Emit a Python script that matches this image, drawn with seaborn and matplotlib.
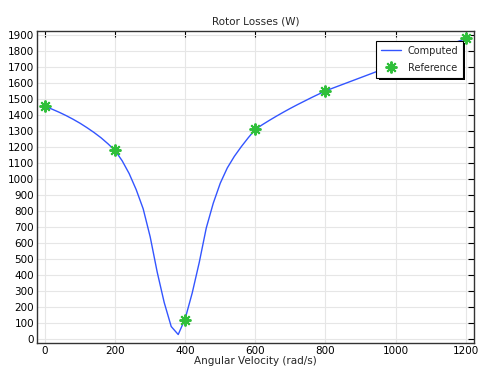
import matplotlib
matplotlib.use("Agg")
import matplotlib.pyplot as plt
import matplotlib.patheffects as pe
import seaborn as sns
import pandas as pd

# Computed curve
omega = [0, 20, 40, 60, 80, 100, 120, 140, 160, 180, 200, 220, 240, 260, 280, 300,
         320, 340, 360, 380, 400, 420, 440, 460, 480, 500, 520, 540, 560, 580, 600,
         620, 640, 660, 680, 700, 720, 740, 760, 780, 800, 840, 880, 920, 960, 1000,
         1040, 1080, 1120, 1160, 1200]
losses = [1455, 1437, 1418, 1397, 1374, 1349, 1321, 1291, 1258, 1220, 1178, 1115, 1035, 935, 815, 640,
          420, 230, 80, 30, 130, 290, 480, 695, 850, 975, 1070, 1142, 1203, 1259, 1311,
          1340, 1367, 1393, 1418, 1442, 1465, 1487, 1509, 1530, 1551, 1584, 1617, 1650, 1683, 1715,
          1747, 1780, 1812, 1845, 1877]

# Reference points
ref_omega = [0, 200, 400, 600, 800, 1000, 1200]
ref_losses = [1455, 1180, 120, 1315, 1548, 1715, 1880]

x_ticks = [0, 200, 400, 600, 800, 1000, 1200]
y_ticks = list(range(0, 2000, 100))

sns.set_style("white")
plt.rcParams['font.family'] = ['DejaVu Sans']

fig = plt.figure(figsize=(4.79, 3.66), dpi=100)
ax = fig.add_axes([0.0772, 0.0628, 0.9124, 0.8525])

df = pd.DataFrame({"omega": omega, "losses": losses})
dref = pd.DataFrame({"omega": ref_omega, "losses": ref_losses})

sns.lineplot(data=df, x="omega", y="losses", ax=ax, color="#3355ff", linewidth=1.0,
             label="Computed", zorder=3)
ax.plot(dref["omega"], dref["losses"], linestyle="none", marker=(8, 2, 0), markersize=8.5,
        markeredgewidth=1.4, color="#2fbf3a", label="Reference", zorder=4)

ax.set_xlim(-23, 1224)
ax.set_ylim(-23, 1925)
ax.set_xticks(x_ticks)
ax.set_yticks(y_ticks)
ax.grid(True, color="#e6e6e6", linewidth=0.8)
ax.tick_params(direction="in", length=4, width=0.8, labelsize=7.5, top=True, right=True,
               labeltop=False, labelright=False, pad=2, colors="black")
for s in ax.spines.values():
    s.set_color("#333333")
    s.set_linewidth(1.0)

ax.set_title("Rotor Losses (W)", fontsize=7.5, pad=5)
ax.set_xlabel("Angular Velocity (rad/s)", fontsize=7.5, labelpad=0)
ax.set_ylabel("")

leg = ax.legend(loc="upper right", bbox_to_anchor=(0.975, 0.968), borderaxespad=0,
                fontsize=7, frameon=True, fancybox=False, framealpha=1,
                edgecolor="black", handlelength=2.0, handletextpad=0.7,
                borderpad=0.5, labelspacing=0.7)
frame = leg.get_frame()
frame.set_linewidth(0.8)
frame.set_path_effects([pe.SimplePatchShadow(offset=(1.6, -1.6), shadow_rgbFace="black", alpha=1),
                        pe.Normal()])

fig.savefig("out.png", dpi=100)
